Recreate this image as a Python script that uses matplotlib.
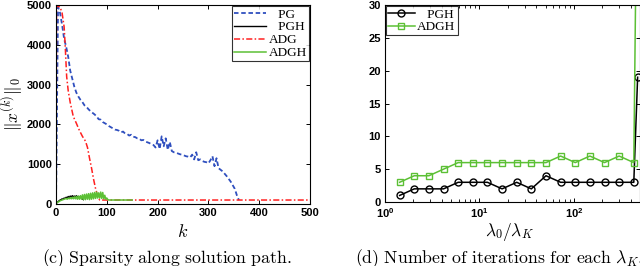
import numpy as np
import matplotlib
matplotlib.use("Agg")
import matplotlib.pyplot as plt

plt.rcParams['mathtext.fontset'] = 'custom'
plt.rcParams['mathtext.rm'] = 'Liberation Sans:bold'
plt.rcParams['mathtext.it'] = 'Liberation Sans:bold'
plt.rcParams['mathtext.bf'] = 'Liberation Sans:bold'

# ---------------- data: panel (c) ----------------
pg_k = np.arange(0, 361, 4)
pg_vals = [0, 4950, 4800, 4500, 4150, 3950, 3700, 3350, 3150, 2950,
           2800, 2700, 2620, 2560, 2480, 2440, 2380, 2330, 2290, 2250,
           2200, 2130, 2120, 2060, 2030, 2000, 1960, 1930, 1900, 1870,
           1860, 1840, 1800, 1820, 1770, 1760, 1720, 1740, 1690, 1680,
           1650, 1640, 1600, 1610, 1570, 1550, 1530, 1500, 1480, 1420,
           1600, 1380, 1700, 1450, 1650, 1360, 1560, 1330, 1300, 1290,
           1270, 1250, 1240, 1220, 1200, 1190, 1170, 1240, 1120, 1300,
           1100, 1120, 1080, 1060, 1050, 1020, 1100, 1200, 950, 1150,
           900, 860, 820, 760, 700, 630, 560, 470, 380, 220,
           100]

adg_k = [0, 1, 8, 12, 16, 18, 21, 24, 28, 34, 40, 46, 52, 58, 62, 66, 70, 74, 78, 82, 86, 500]
adg_vals = [0, 4980, 4950, 4800, 4450, 4000, 3200, 2850, 2550, 2200, 2030, 1850, 1700, 1580,
            1420, 1150, 900, 620, 380, 200, 100, 100]

pgh_k = [0, 2, 4, 6, 8, 10, 12, 14, 16, 18, 20, 22, 24, 26, 28, 30, 32, 34, 36, 38,
         40, 42, 44, 46, 48, 50, 52, 54]
pgh_vals = [0, 40, 60, 80, 100, 110, 130, 120, 150, 140, 170, 150, 190, 160, 200, 170,
            210, 180, 200, 170, 210, 180, 190, 170, 180, 160, 130, 110]

adgh_k = list(range(0, 105, 2)) + [150]
adgh_vals = [0, 30, 50, 60, 80, 90, 100, 110, 120, 130, 140, 120, 150, 130, 160, 130,
             170, 130, 180, 130, 190, 120, 200, 120, 210, 120, 230, 110, 240, 110,
             250, 120, 260, 110, 270, 120, 280, 130, 290, 140, 300, 150, 280, 150,
             300, 140, 290, 130, 220, 120, 150, 110, 100, 100]

# ---------------- data: panel (d) ----------------
ratio = [1.4286, 2.0408, 2.9155, 4.1649, 5.9499, 8.4999, 12.143, 17.347, 24.781,
         35.401, 50.573, 72.247, 103.21, 147.44, 210.63, 300.90, 429.86, 472.0]
pgh_iters = [1, 2, 2, 2, 3, 3, 3, 2, 3, 2, 4, 3, 3, 3, 3, 3, 3, 19]
adgh_iters = [3, 4, 4, 5, 6, 6, 6, 6, 6, 6, 6, 7, 6, 7, 6, 7, 6, 60]

# ---------------- figure ----------------
W, H = 640, 266
fig = plt.figure(figsize=(W / 100, H / 100), dpi=100)

def px_axes(l, r, t, b):
    return fig.add_axes([l / W, 1 - b / H, (r - l) / W, (b - t) / H])

serif = 'Liberation Serif'
TICK_FS = 8

# ---- left panel ----
ax1 = px_axes(56, 310, 5, 204)
ax1.plot(pg_k, pg_vals, color='#2f4fbf', ls=(0, (2.5, 1.5)), lw=1.3, label='   PG')
ax1.plot(pgh_k, pgh_vals, color='black', lw=1.0, label='   PGH')
ax1.plot(adg_k, adg_vals, color='#ff2020', ls=(0, (4, 1.5, 1, 1.5)), lw=1.1, label='ADG')
ax1.plot(adgh_k, adgh_vals, color='#5cc035', lw=1.1, label='ADGH')
ax1.set_xlim(0, 500)
ax1.set_ylim(0, 5000)
ax1.set_xticks([0, 100, 200, 300, 400, 500])
ax1.set_yticks([0, 1000, 2000, 3000, 4000, 5000])
xl = ax1.set_xlabel(r'$k$', fontsize=13, va='center')
xl.set_math_fontfamily('cm')
ax1.xaxis.set_label_coords(0.5, -0.14)
yl = ax1.set_ylabel(r'$\Vert x^{(k)}\Vert_0$', fontsize=12.5, va='center', ha='center')
yl.set_math_fontfamily('cm')
ax1.yaxis.set_label_coords(-0.172, 0.5)
leg1 = ax1.legend(loc='upper right', prop=dict(family=serif, size=9.5), frameon=True,
                  fancybox=False, edgecolor='black', borderpad=0.15, labelspacing=0.05,
                  handlelength=2.4, handletextpad=0.2, borderaxespad=0.1)
leg1.get_frame().set_linewidth(0.8)

# ---- right panel ----
ax2 = px_axes(385, 640, 5, 202)
ax2.plot(ratio, pgh_iters, color='black', marker='o', ms=5, mfc='none', mew=1.0,
         lw=1.1, label='   PGH')
ax2.plot(ratio, adgh_iters, color='#5cc035', marker='s', ms=4.2, mfc='none', mew=1.0,
         lw=1.1, label='ADGH')
ax2.set_xscale('log')
ax2.set_xlim(1, 500)
ax2.set_ylim(0, 30)
ax2.set_yticks([0, 5, 10, 15, 20, 25, 30])
xl2 = ax2.set_xlabel(r'$\lambda_0/\lambda_K$', fontsize=12.5, va='center')
xl2.set_math_fontfamily('cm')
ax2.xaxis.set_label_coords(0.49, -0.152)
leg2 = ax2.legend(loc='upper left', prop=dict(family=serif, size=9.5), frameon=True,
                  fancybox=False, edgecolor='black', borderpad=0.15, labelspacing=0.05,
                  handlelength=2.0, handletextpad=0.2, borderaxespad=0.1)
leg2.get_frame().set_linewidth(0.8)

for ax in (ax1, ax2):
    ax.tick_params(direction='in', top=True, right=True, length=3, width=0.7, pad=3)
    ax.tick_params(which='minor', direction='in', top=True, right=True, length=2, width=0.6)
    for lab in ax.get_xticklabels() + ax.get_yticklabels():
        lab.set_fontfamily('Liberation Sans')
        lab.set_fontweight('bold')
        lab.set_fontsize(TICK_FS)
    for s in ax.spines.values():
        s.set_linewidth(0.8)

# captions (Computer Modern look via mathtext)
c1 = fig.text(42 / W, 1 - 263 / H, r'$\mathrm{(c)\ Sparsity\ along\ solution\ path.}$',
              ha='left', va='baseline', fontsize=12.8)
c1.set_math_fontfamily('cm')
c2 = fig.text(355 / W, 1 - 263 / H,
              r'$\mathrm{(d)\ Number\ of\ iterations\ for\ each\ }\lambda_K\mathrm{.}$',
              ha='left', va='baseline', fontsize=12.8)
c2.set_math_fontfamily('cm')

fig.savefig('out.png', dpi=100)
